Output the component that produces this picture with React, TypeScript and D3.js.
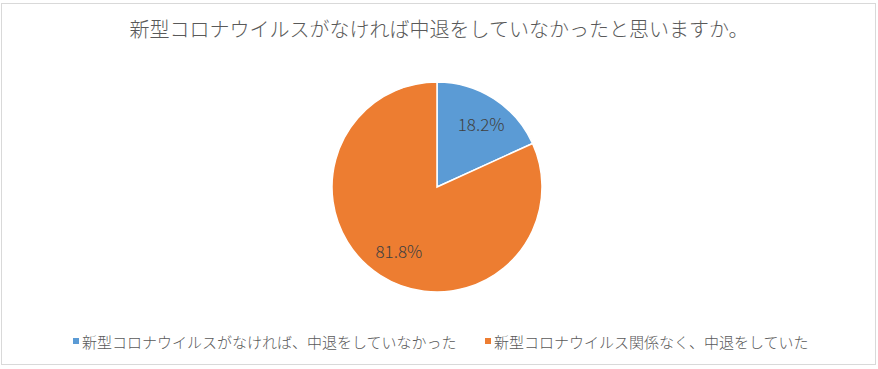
import React from 'react';
import * as d3 from 'd3';

const title = '新型コロナウイルスがなければ中退をしていなかったと思いますか。';
const categories = ['新型コロナウイルスがなければ、中退をしていなかった', '新型コロナウイルス関係なく、中退をしていた'];
const values = [18.2, 81.8];
const colors = ['#5B9BD5', '#ED7D31'];

const W = 878;
const H = 369;
const font = '"Noto Sans CJK JP", "Noto Sans", sans-serif';

const App: React.FC = () => {
  const cx = 437;
  const cy = 187;
  const r = 105;

  const pie = d3.pie<number>().sort(null).value((d) => d);
  const arcs = pie(values);
  const arc = d3.arc<d3.PieArcDatum<number>>().innerRadius(0).outerRadius(r);
  const labelArc = d3.arc<d3.PieArcDatum<number>>().innerRadius(152).outerRadius(0);
  const fmt = d3.format('.1f');

  // legend x positions (item start)
  const legendX = [73, 485];

  return (
    <svg width={W} height={H} style={{ position: 'absolute', left: 0, top: 0, background: '#fff' }}>
      <rect x={1.5} y={3.5} width={874} height={361} fill="#fff" stroke="#d9d9d9" strokeWidth={1} />
      <text x={439} y={37} textAnchor="middle" fontFamily={font} fontSize={20} fontWeight={300} fill="#595959">
        {title}
      </text>
      <g transform={`translate(${cx},${cy})`}>
        {arcs.map((a, i) => (
          <path key={i} d={arc(a) || ''} fill={colors[i]} stroke="#fff" strokeWidth={1.5} />
        ))}
        {arcs.map((a, i) => {
          const [x, y] = labelArc.centroid(a);
          return (
            <text
              key={'l' + i}
              x={x + 3}
              y={y}
              textAnchor="middle"
              dominantBaseline="central"
              fontFamily={font}
              fontSize={17}
              fontWeight={300}
              fill="#404040"
            >
              {fmt(a.data) + '%'}
            </text>
          );
        })}
      </g>
      <g>
        {categories.map((c, i) => (
          <g key={c} transform={`translate(${legendX[i]},341)`}>
            <rect x={0} y={-3} width={6} height={6} fill={colors[i]} />
            <text x={9} y={0} dominantBaseline="central" fontFamily={font} fontSize={15} fontWeight={300} fill="#595959">
              {c}
            </text>
          </g>
        ))}
      </g>
    </svg>
  );
};

export default App;
